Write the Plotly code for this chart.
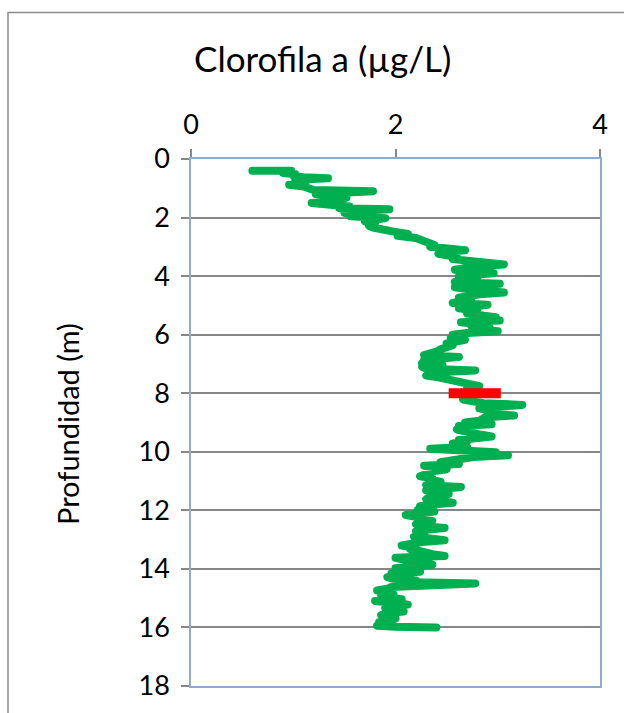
import plotly.graph_objects as go

# Chlorophyll-a profile: depth (m) and concentration (ug/L)
depth = [
    0.40, 0.40, 0.48, 0.52, 0.58, 0.62, 0.66, 0.70, 0.76, 0.82, 0.88, 0.94, 1.00, 1.06, 1.10, 1.14,
    1.20, 1.26, 1.32, 1.38, 1.44, 1.50, 1.56, 1.62, 1.68, 1.72, 1.78, 1.84, 1.90, 1.96, 2.02, 2.08,
    2.14, 2.20, 2.28, 2.34, 2.40, 2.48, 2.56, 2.62, 2.70, 2.78, 2.86, 2.94, 3.00, 3.06, 3.12, 3.18,
    3.24, 3.30, 3.36, 3.42, 3.48, 3.54, 3.60, 3.66, 3.72, 3.78, 3.84, 3.90, 3.96, 4.02, 4.08, 4.14,
    4.20, 4.26, 4.32, 4.38, 4.44, 4.50, 4.56, 4.62, 4.68, 4.74, 4.80, 4.86, 4.92, 4.98, 5.04, 5.10,
    5.16, 5.22, 5.28, 5.34, 5.40, 5.46, 5.52, 5.58, 5.64, 5.70, 5.76, 5.82, 5.88, 5.94, 6.00, 6.06,
    6.12, 6.18, 6.24, 6.30, 6.36, 6.42, 6.50, 6.58, 6.64, 6.70, 6.76, 6.80, 6.86, 6.92, 6.98, 7.04,
    7.10, 7.16, 7.22, 7.28, 7.34, 7.40, 7.46, 7.52, 7.58, 7.64, 7.70, 7.76, 7.82, 7.90, 7.96, 8.04,
    8.10, 8.16, 8.22, 8.28, 8.34, 8.40, 8.46, 8.52, 8.58, 8.64, 8.70, 8.76, 8.82, 8.88, 8.94, 9.00,
    9.06, 9.12, 9.18, 9.24, 9.30, 9.36, 9.42, 9.48, 9.54, 9.60, 9.66, 9.72, 9.78, 9.84, 9.90, 9.96,
    10.02, 10.08, 10.12, 10.18, 10.24, 10.30, 10.36, 10.42, 10.48, 10.54, 10.60, 10.66, 10.72, 10.78,
    10.84, 10.90, 10.96, 11.02, 11.08, 11.14, 11.20, 11.26, 11.32, 11.38, 11.44, 11.50, 11.56, 11.62,
    11.68, 11.74, 11.80, 11.86, 11.92, 11.98, 12.04, 12.10, 12.16, 12.22, 12.30, 12.36, 12.42, 12.48,
    12.54, 12.60, 12.66, 12.72, 12.78, 12.84, 12.90, 12.96, 13.02, 13.08, 13.14, 13.20, 13.26, 13.32,
    13.38, 13.44, 13.50, 13.56, 13.62, 13.68, 13.74, 13.80, 13.86, 13.92, 13.98, 14.04, 14.10, 14.16,
    14.22, 14.28, 14.34, 14.40, 14.46, 14.50, 14.56, 14.62, 14.68, 14.74, 14.80, 14.86, 14.92, 14.98,
    15.04, 15.10, 15.16, 15.22, 15.28, 15.34, 15.40, 15.46, 15.52, 15.58, 15.64, 15.70, 15.76, 15.82,
    15.88, 15.94, 15.98, 16.00,
]
chl = [
    0.60, 0.98, 0.90, 1.02, 1.00, 1.10, 1.34, 1.08, 1.02, 1.12, 0.96, 1.10, 1.14, 1.20, 1.78, 1.30,
    1.22, 1.40, 1.52, 1.30, 1.42, 1.18, 1.40, 1.55, 1.45, 1.94, 1.60, 1.50, 1.62, 1.56, 1.90, 1.72,
    1.70, 1.80, 1.74, 1.78, 1.92, 1.98, 2.12, 2.02, 2.20, 2.28, 2.32, 2.38, 2.34, 2.48, 2.68, 2.46,
    2.42, 2.52, 2.60, 2.56, 2.70, 2.76, 3.06, 2.80, 2.64, 2.58, 2.70, 2.96, 2.72, 2.62, 2.80, 2.68,
    2.58, 3.02, 2.74, 2.58, 2.70, 2.86, 3.06, 2.82, 2.70, 2.62, 2.74, 2.60, 2.56, 2.90, 2.70, 2.62,
    2.74, 2.80, 2.70, 2.86, 2.98, 2.76, 3.02, 2.64, 2.80, 2.74, 2.92, 2.84, 3.00, 2.70, 2.56, 2.62,
    2.54, 2.68, 2.58, 2.50, 2.56, 2.48, 2.44, 2.40, 2.36, 2.28, 2.62, 2.40, 2.28, 2.32, 2.26, 2.46,
    2.26, 2.30, 2.78, 2.40, 2.30, 2.30, 2.42, 2.50, 2.58, 2.66, 2.78, 2.82, 2.70, 2.78, 2.74, 2.84,
    2.70, 2.76, 2.66, 2.80, 2.86, 3.24, 2.92, 2.82, 2.90, 2.96, 2.92, 3.16, 2.88, 2.86, 2.82, 2.68,
    2.94, 2.62, 2.70, 2.60, 2.66, 2.72, 2.84, 2.94, 2.78, 2.62, 2.70, 2.56, 2.62, 2.70, 2.34, 2.70,
    2.98, 2.84, 3.10, 2.76, 2.60, 2.50, 2.44, 2.62, 2.28, 2.40, 2.50, 2.38, 2.32, 2.28,
    2.24, 2.36, 2.34, 2.44, 2.38, 2.30, 2.64, 2.40, 2.30, 2.40, 2.52, 2.36, 2.32, 2.30,
    2.42, 2.56, 2.36, 2.24, 2.26, 2.22, 2.38, 2.16, 2.10, 2.20, 2.24, 2.36, 2.30, 2.20,
    2.28, 2.48, 2.30, 2.20, 2.28, 2.20, 2.18, 2.34, 2.48, 2.26, 2.10, 2.06, 2.18, 2.14,
    2.22, 2.28, 2.36, 2.48, 2.00, 2.08, 2.14, 2.26, 2.36, 2.20, 2.00, 2.10, 2.24, 1.96,
    2.04, 1.92, 1.98, 2.20, 2.20, 2.78, 2.04, 1.96, 1.92, 1.82, 1.96, 1.98, 1.86, 1.88,
    2.06, 1.80, 1.96, 2.12, 1.92, 1.90, 2.00, 2.08, 1.90, 1.86, 1.94, 2.00, 1.94, 1.84,
    1.90, 1.82, 2.00, 2.40,
]

# Red marker bar at the 8 m level
marker_depth = [8.0, 8.0]
marker_chl = [2.52, 3.03]

x_ticks = [0, 2, 4]
y_ticks = [0, 2, 4, 6, 8, 10, 12, 14, 16, 18]

title_text = "Clorofila a (\u00b5g/L)"
ytitle_text = "Profundidad (m)"

FONT = "Lato, 'Open Sans', sans-serif"
GRID = "#878787"
AXIS = "#8EA9D2"

fig = go.Figure()
fig.add_trace(go.Scatter(
    x=chl, y=depth, mode="lines",
    line=dict(color="#00B050", width=8),
    hoverinfo="skip", showlegend=False,
))
fig.add_trace(go.Scatter(
    x=marker_chl, y=marker_depth, mode="lines",
    line=dict(color="#FF0000", width=10),
    hoverinfo="skip", showlegend=False,
))

L, R, T, B = 191, 24, 159, 25
W, H = 624, 713
pw, ph = W - L - R, H - T - B


def px(xp):
    return (xp - L) / pw


def py(yp):
    return (H - B - yp) / ph


fig.update_layout(
    width=W, height=H,
    margin=dict(l=L, r=R, t=T, b=B, pad=0),
    paper_bgcolor="white", plot_bgcolor="white",
    font=dict(family=FONT, color="#000000"),
    xaxis=dict(
        side="top", range=[0, 4], tickvals=x_ticks, ticktext=[str(v) for v in x_ticks],
        showgrid=False, zeroline=False,
        showline=True, linecolor=AXIS, linewidth=1.5, mirror=True,
        ticks="outside", ticklen=8, tickcolor=GRID, tickwidth=1.5,
        tickfont=dict(size=27, family=FONT), ticklabelstandoff=4,
    ),
    yaxis=dict(
        range=[18, 0], tickvals=y_ticks, ticktext=[str(v) for v in y_ticks],
        showgrid=True, gridcolor=GRID, gridwidth=2, zeroline=False,
        showline=True, linecolor=AXIS, linewidth=1.5, mirror=True,
        ticks="outside", ticklen=8, tickcolor=GRID, tickwidth=1.5,
        tickfont=dict(size=27, family=FONT), ticklabelstandoff=6,
    ),
    shapes=[dict(
        type="rect", xref="paper", yref="paper",
        x0=px(8), x1=px(640), y0=py(730), y1=py(12),
        line=dict(color="#8C8C8C", width=1.5), fillcolor="rgba(0,0,0,0)", layer="below",
    )],
    annotations=[
        dict(text=title_text, xref="paper", yref="paper", x=px(322), y=py(58),
             xanchor="center", yanchor="middle", showarrow=False,
             font=dict(size=35, family=FONT)),
        dict(text=ytitle_text, xref="paper", yref="paper", x=px(68), y=py(425),
             xanchor="center", yanchor="middle", showarrow=False, textangle=-90,
             font=dict(size=29, family=FONT)),
    ],
)

post = """
document.body.style.margin = '0';
document.body.style.padding = '0';
var traces = document.querySelectorAll('.scatterlayer .trace');
if (traces.length) {
  traces[0].querySelectorAll('path.js-line').forEach(function (p) {
    p.style.strokeLinecap = 'round';
    p.style.strokeLinejoin = 'round';
  });
}
"""

fig.write_html("out.html", post_script=post, config={"displayModeBar": False})
